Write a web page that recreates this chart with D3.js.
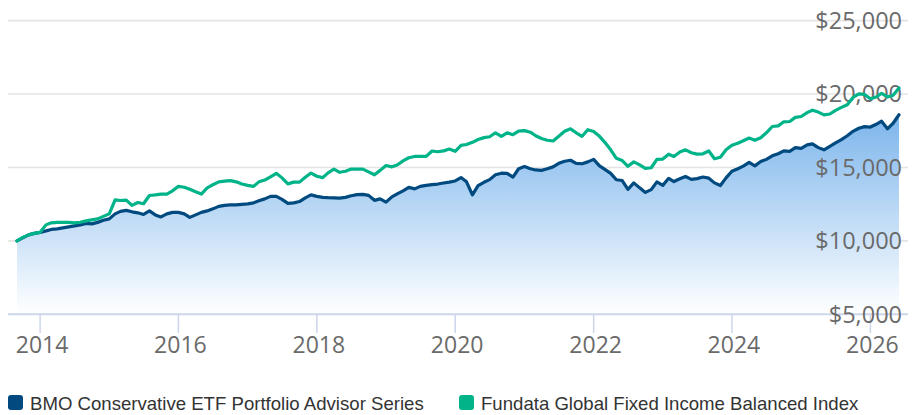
<!DOCTYPE html>
<html>
<head>
<meta charset="utf-8">
<script src="https://cdn.jsdelivr.net/npm/d3@7"></script>
<style>
	body { margin: 0; background: #fff; }
	svg { display: block; }
</style>
</head>
<body>
<div id="chart"></div>
<script>
	// growth of $10,000, monthly, Sep 2013 -> Jun 2026
	var startMonth = new Date(2013, 8, 1)
	var seriesNames = ["BMO Conservative ETF Portfolio Advisor Series", "Fundata Global Fixed Income Balanced Index"]
	var seriesColors = ["#004a80", "#00b388"]
	var yTicks = [5000, 10000, 15000, 20000, 25000]
	var xTickYears = [2014, 2016, 2018, 2020, 2022, 2024, 2026]

	var fundValues = [
		10000, 10200, 10410, 10510, 10580, 10680, 10780, 10820, 10880, 10950, 11020, 11090,
		11190, 11160, 11260, 11400, 11500, 11840, 12010, 12080, 11980, 11910, 11800, 12040,
		11770, 11630, 11840, 11940, 11940, 11840, 11600, 11770, 11940, 12040, 12180, 12350,
		12420, 12450, 12450, 12490, 12520, 12590, 12730, 12860, 13030, 13030, 12830, 12550,
		12590, 12680, 12930, 13130, 13030, 12960, 12940, 12930, 12910, 12960, 13070, 13150,
		13170, 13100, 12760, 12860, 12640, 13000, 13200, 13410, 13650, 13540, 13710, 13780,
		13830, 13870, 13940, 14000, 14080, 14310, 14020, 13130, 13760, 13990, 14170, 14500,
		14610, 14600, 14340, 14910, 15060, 14910, 14830, 14800, 14910, 15040, 15280, 15420,
		15490, 15280, 15250, 15380, 15550, 15110, 14870, 14600, 14160, 14110, 13510, 13950,
		13610, 13300, 13490, 14020, 13780, 14260, 14040, 14230, 14380, 14190, 14240, 14350,
		14270, 13950, 13770, 14290, 14740, 14910, 15090, 15340, 15110, 15400, 15550, 15790,
		15930, 16130, 16100, 16350, 16300, 16540, 16610, 16350, 16200, 16440, 16680, 16900,
		17160, 17460, 17670, 17780, 17750, 17940, 18150, 17630, 18010, 18590
	]
	var indexValues = [
		10000, 10240, 10410, 10510, 10580, 11090, 11230, 11260, 11270, 11260, 11230, 11270,
		11360, 11430, 11500, 11670, 11840, 12790, 12750, 12780, 12420, 12610, 12530, 13090,
		13130, 13180, 13180, 13410, 13710, 13650, 13510, 13340, 13190, 13610, 13820, 14020,
		14070, 14100, 14020, 13870, 13780, 13710, 14020, 14140, 14360, 14600, 14290, 13880,
		14000, 14000, 14330, 14620, 14400, 14310, 14630, 14880, 14670, 14740, 14890, 14890,
		14890, 14700, 14500, 14800, 15130, 15040, 15170, 15450, 15660, 15750, 15750, 15750,
		16120, 16070, 16130, 16250, 16100, 16500, 16560, 16710, 16900, 17030, 17090, 17360,
		17120, 17360, 17230, 17480, 17510, 17400, 17160, 16970, 16850, 16800, 17120, 17460,
		17630, 17360, 17120, 17570, 17450, 17120, 16710, 16200, 15620, 15470, 15080, 15380,
		15170, 14940, 14980, 15550, 15570, 15900, 15750, 16050, 16200, 16000, 15910, 15930,
		16120, 15590, 15690, 16200, 16510, 16650, 16820, 17000, 16850, 17020, 17360, 17790,
		17830, 18110, 18130, 18410, 18470, 18730, 18900, 18770, 18580, 18640, 18890, 19090,
		19270, 19770, 20010, 19970, 19680, 19800, 20050, 19800, 19920, 20410
	]

	var dates = d3.timeMonth.range(startMonth, d3.timeMonth.offset(startMonth, fundValues.length))
	var series = [fundValues, indexValues].map(function (vals, k) {
		return {
			name: seriesNames[k],
			color: seriesColors[k],
			points: vals.map(function (v, i) { return { date: dates[i], value: v } })
		}
	})

	var width = 918
	var height = 415
	var svg = d3.select("#chart").append("svg")
		.attr("width", width)
		.attr("height", height)

	var x = d3.scaleTime()
		.domain(d3.extent(dates))
		.range([17, 899])
	var y = d3.scaleLinear()
		.domain([5000, 25000])
		.range([314.3, 20.6])

	var defs = svg.append("defs")
	var grad = defs.append("linearGradient")
		.attr("id", "areaFill")
		.attr("gradientUnits", "userSpaceOnUse")
		.attr("x1", 0).attr("x2", 0)
		.attr("y1", y(d3.max(fundValues)))
		.attr("y2", y(5000))
	grad.append("stop").attr("offset", "0%").attr("stop-color", "#7cb5ec")
	grad.append("stop").attr("offset", "100%").attr("stop-color", "#ffffff")

	// grid lines
	svg.append("g")
		.selectAll("line")
		.data(yTicks.slice(1))
		.enter().append("line")
		.attr("x1", 8)
		.attr("x2", 908)
		.attr("y1", function (d) { return y(d) })
		.attr("y2", function (d) { return y(d) })
		.style("stroke", "#e4e4e4")
		.style("stroke-width", 1.6)

	// area under the fund
	var area = d3.area()
		.x(function (d) { return x(d.date) })
		.y0(y(5000))
		.y1(function (d) { return y(d.value) })
	svg.append("path")
		.datum(series[0].points)
		.attr("d", area)
		.style("fill", "url(#areaFill)")

	// x axis line + ticks
	svg.append("line")
		.attr("x1", 8).attr("x2", 908)
		.attr("y1", y(5000)).attr("y2", y(5000))
		.style("stroke", "#ccd6eb")
		.style("stroke-width", 2)

	var xTicks = xTickYears.map(function (yr) { return new Date(yr, 0, 1) })
	var xg = svg.append("g")
	xg.selectAll("line")
		.data(xTicks)
		.enter().append("line")
		.attr("x1", function (d) { return x(d) })
		.attr("x2", function (d) { return x(d) })
		.attr("y1", y(5000))
		.attr("y2", 333)
		.style("stroke", "#ccd6eb")
		.style("stroke-width", 1.5)
	xg.selectAll("text")
		.data(xTicks)
		.enter().append("text")
		.attr("x", function (d) { return x(d) + 2 })
		.attr("y", 353)
		.style("text-anchor", "middle")
		.style("font-family", "'Open Sans', sans-serif")
		.style("font-size", "23px")
		.style("fill", "#6a6a6a")
		.text(d3.timeFormat("%Y"))

	// y labels on the right
	var yFmt = d3.format("$,")
	svg.append("g")
		.selectAll("text")
		.data(yTicks)
		.enter().append("text")
		.attr("x", 902)
		.attr("y", function (d) { return y(d) })
		.attr("dy", "0.36em")
		.style("text-anchor", "end")
		.style("font-family", "'Open Sans', sans-serif")
		.style("font-size", "23.5px")
		.style("fill", "#6a6a6a")
		.text(function (d) { return yFmt(d) })

	// lines, index on top
	var line = d3.line()
		.x(function (d) { return x(d.date) })
		.y(function (d) { return y(d.value) })
	svg.append("g")
		.selectAll("path")
		.data(series)
		.enter().append("path")
		.attr("d", function (d) { return line(d.points) })
		.style("fill", "none")
		.style("stroke", function (d) { return d.color })
		.style("stroke-width", 3.2)
		.style("stroke-linejoin", "round")
		.style("stroke-linecap", "round")

	// legend
	var legendX = [8, 459]
	var lg = svg.append("g")
		.selectAll("g")
		.data(series)
		.enter().append("g")
		.attr("transform", function (d, i) { return "translate(" + legendX[i] + ",395)" })
	lg.append("rect")
		.attr("width", 15)
		.attr("height", 15)
		.attr("rx", 3)
		.style("fill", function (d) { return d.color })
	lg.append("text")
		.attr("x", 22)
		.attr("y", 15)
		.style("font-family", "'Liberation Sans', Arial, sans-serif")
		.style("font-size", "18.6px")
		.style("fill", "#333")
		.text(function (d) { return d.name })
</script>
</body>
</html>
